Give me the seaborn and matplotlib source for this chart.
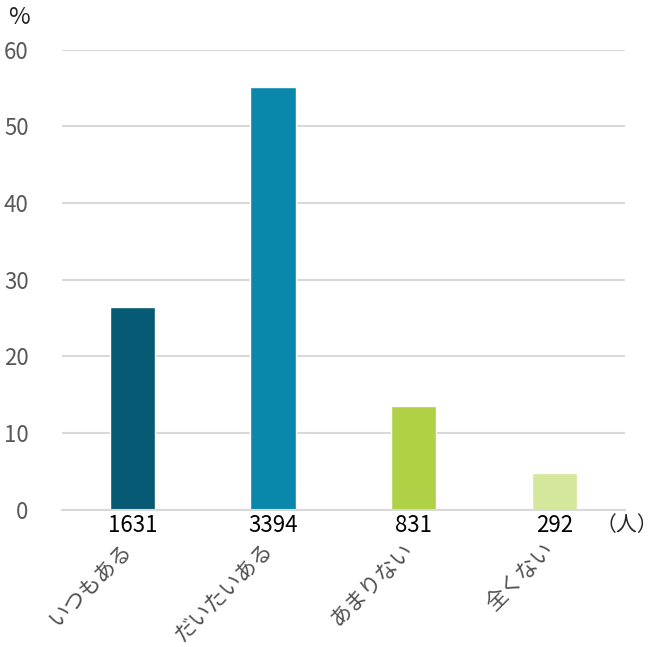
import pandas as pd
import seaborn as sns
import matplotlib.pyplot as plt

# data
categories = ['いつもある', 'だいたいある', 'あまりない', '全くない']
counts = [1631, 3394, 831, 292]
percents = [26.5, 55.2, 13.5, 4.8]
colors = ['#065A73', '#0A88AC', '#B0D145', '#D4E79A']

df = pd.DataFrame({'category': categories, 'percent': percents})

sns.set_style('white')
plt.rcParams['font.family'] = ['Noto Sans CJK JP', 'DejaVu Sans']

fig = plt.figure(figsize=(6.59, 6.47), dpi=100)
ax = fig.add_axes([0.094, 0.212, 0.854, 0.711])

sns.barplot(data=df, x='category', y='percent', hue='category',
            palette=colors, width=0.32, legend=False, ax=ax, saturation=1)

ax.set_ylim(0, 60)
ax.set_xlim(-0.5, 3.5)
ax.set_yticks(range(0, 61, 10))
ax.yaxis.grid(True, color='#D9D9D9', linewidth=1.5)
ax.set_axisbelow(True)
for s in ['top', 'right', 'left']:
    ax.spines[s].set_visible(False)
ax.spines['bottom'].set_color('#D9D9D9')
ax.spines['bottom'].set_linewidth(1.5)

ax.tick_params(axis='y', length=0, labelsize=16, labelcolor='#595959', pad=24)
ax.set_xticks(range(len(categories)))
ax.set_xticklabels([str(c) for c in counts])
ax.tick_params(axis='x', length=0, labelsize=16, labelcolor='black', pad=3)
ax.set_xlabel('')
ax.set_ylabel('')

# rotated category names under the counts
for i, cat in enumerate(categories):
    ax.annotate(cat, xy=(i, 0), xycoords=('data', 'axes fraction'),
                xytext=(3, -21), textcoords='offset points',
                rotation=45, ha='right', va='top', fontsize=15.5, color='#505050')

fig.text(0.998, 1 - 514 / 647, '（人）', ha='right', va='top', fontsize=15)
fig.text(0.012, 0.99, '%', ha='left', va='top', fontsize=17)

fig.savefig('out.png', dpi=100)
